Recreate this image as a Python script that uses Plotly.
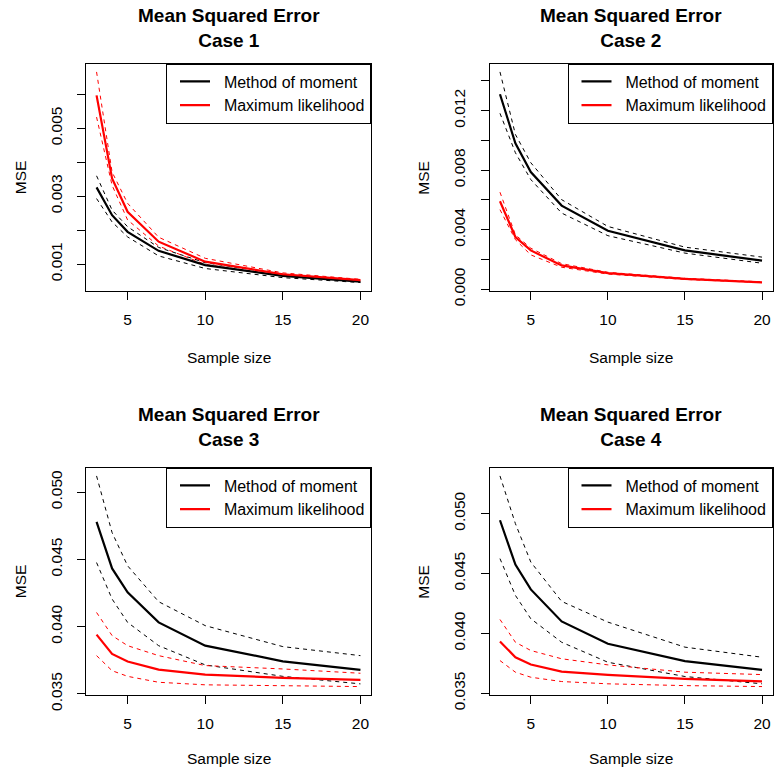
import plotly.graph_objects as go

# ---------------- data ----------------
sample_size = [3, 4, 5, 7, 10, 15, 20]

c1_mom = [0.00326, 0.00244, 0.00195, 0.00139, 0.00097, 0.00065, 0.00048]
c1_mom_hi = [0.00360, 0.00259, 0.00210, 0.00149, 0.00104, 0.00070, 0.00051]
c1_mom_lo = [0.00293, 0.00224, 0.00180, 0.00124, 0.00087, 0.00060, 0.000455]
c1_ml = [0.00597, 0.00352, 0.00254, 0.00166, 0.00107, 0.00070, 0.00053]
c1_ml_hi = [0.00666, 0.00371, 0.00279, 0.00179, 0.00117, 0.00074, 0.00055]
c1_ml_lo = [0.00533, 0.00332, 0.00230, 0.00153, 0.00099, 0.00066, 0.00050]

c2_mom = [0.01310, 0.00980, 0.00787, 0.00562, 0.00393, 0.00261, 0.00193]
c2_mom_hi = [0.01460, 0.01040, 0.00850, 0.00602, 0.00422, 0.00283, 0.00216]
c2_mom_lo = [0.01182, 0.00917, 0.00737, 0.00512, 0.00360, 0.00243, 0.00175]
c2_ml = [0.00591, 0.00351, 0.00261, 0.00160, 0.00108, 0.00070, 0.00047]
c2_ml_hi = [0.00652, 0.00366, 0.00276, 0.00172, 0.00114, 0.00074, 0.00050]
c2_ml_lo = [0.00535, 0.00333, 0.00231, 0.00148, 0.00102, 0.00066, 0.00045]

c3_mom = [0.04778, 0.04432, 0.04254, 0.04031, 0.03858, 0.03742, 0.03678]
c3_mom_hi = [0.05120, 0.04699, 0.04452, 0.04185, 0.04007, 0.03851, 0.03784]
c3_mom_lo = [0.04476, 0.04205, 0.04031, 0.03858, 0.03715, 0.03630, 0.03574]
c3_ml = [0.03940, 0.03797, 0.03740, 0.03680, 0.03643, 0.03619, 0.03604]
c3_ml_hi = [0.04105, 0.03933, 0.03858, 0.03784, 0.03710, 0.03685, 0.03653]
c3_ml_lo = [0.03784, 0.03672, 0.03630, 0.03586, 0.03567, 0.03562, 0.03554]

c4_mom = [0.04944, 0.04574, 0.04367, 0.04100, 0.03913, 0.03768, 0.03696]
c4_mom_hi = [0.05314, 0.04916, 0.04595, 0.04267, 0.04094, 0.03885, 0.03801]
c4_mom_lo = [0.04624, 0.04317, 0.04122, 0.03926, 0.03759, 0.03640, 0.03579]
c4_ml = [0.03932, 0.03801, 0.03740, 0.03681, 0.03654, 0.03620, 0.03600]
c4_ml_hi = [0.04116, 0.03926, 0.03857, 0.03788, 0.03737, 0.03676, 0.03656]
c4_ml_lo = [0.03773, 0.03676, 0.03634, 0.03598, 0.03579, 0.03564, 0.03556]

case_titles = ["Case 1", "Case 2", "Case 3", "Case 4"]
series_names = ["Method of moment", "Maximum likelihood"]

c1_ticks = [0.001, 0.002, 0.003, 0.004, 0.005, 0.006]
c1_ticktext = ["0.001", "", "0.003", "", "0.005", ""]
c2_ticks = [0.000, 0.002, 0.004, 0.006, 0.008, 0.010, 0.012, 0.014]
c2_ticktext = ["0.000", "", "0.004", "", "0.008", "", "0.012", ""]
c34_ticks = [0.035, 0.040, 0.045, 0.050]
c34_ticktext = ["0.035", "0.040", "0.045", "0.050"]
x_ticks = [5, 10, 15, 20]

cases = [
    (c1_mom, c1_mom_hi, c1_mom_lo, c1_ml, c1_ml_hi, c1_ml_lo, c1_ticks, c1_ticktext),
    (c2_mom, c2_mom_hi, c2_mom_lo, c2_ml, c2_ml_hi, c2_ml_lo, c2_ticks, c2_ticktext),
    (c3_mom, c3_mom_hi, c3_mom_lo, c3_ml, c3_ml_hi, c3_ml_lo, c34_ticks, c34_ticktext),
    (c4_mom, c4_mom_hi, c4_mom_lo, c4_ml, c4_ml_hi, c4_ml_lo, c34_ticks, c34_ticktext),
]

# ---------------- layout geometry (pixels) ----------------
W, H = 776, 775
FONT = "Liberation Sans, Arial, Helvetica, sans-serif"
boxes = [  # left, right, top, bottom
    (86, 371, 63.5, 291),
    (489.5, 772.5, 63.5, 291),
    (86, 371, 467.5, 695),
    (489.5, 772.5, 467.5, 695),
]
title_y = [28, 28, 427, 427]
xlab_y = [357, 357, 758, 758]

def px(x):
    return x / W

def py(y):
    return 1 - y / H

def r_range(lo, hi):
    d = (hi - lo) * 0.04
    return [lo - d, hi + d]

fig = go.Figure()
layout = dict(
    width=W, height=H, margin=dict(l=0, r=0, t=0, b=0, pad=0, autoexpand=False),
    plot_bgcolor="white", paper_bgcolor="white",
    font=dict(family=FONT, size=15, color="black"),
    annotations=[],
)

NB = "\u00a0"

for i, (mom, mom_hi, mom_lo, ml, ml_hi, ml_lo, yt, ytt) in enumerate(cases):
    n = i + 1
    xa = "x" if n == 1 else f"x{n}"
    ya = "y" if n == 1 else f"y{n}"
    leg = "legend" if n == 1 else f"legend{n}"
    L, R, T, B = boxes[i]

    for ys, col in [(mom_hi, "black"), (mom_lo, "black"), (ml_hi, "red"), (ml_lo, "red")]:
        fig.add_trace(go.Scatter(x=sample_size, y=ys, mode="lines", xaxis=xa, yaxis=ya,
                                 line=dict(color=col, width=1, dash="4px,4px"),
                                 showlegend=False, hoverinfo="skip"))
    fig.add_trace(go.Scatter(x=sample_size, y=mom, mode="lines", xaxis=xa, yaxis=ya,
                             line=dict(color="black", width=2.2),
                             name=NB * 2 + series_names[0], legend=leg))
    fig.add_trace(go.Scatter(x=sample_size, y=ml, mode="lines", xaxis=xa, yaxis=ya,
                             line=dict(color="red", width=2.2),
                             name=NB * 2 + series_names[1], legend=leg))

    allv = mom + mom_hi + mom_lo + ml + ml_hi + ml_lo
    yr = r_range(min(allv), max(allv))
    xr = r_range(min(sample_size), max(sample_size))

    axis_common = dict(showline=True, mirror=True, linecolor="black", linewidth=1,
                       ticks="outside", ticklen=8, tickcolor="black", tickwidth=1,
                       showgrid=False, zeroline=False, fixedrange=True, automargin=False,
                       tickfont=dict(family=FONT, size=15.5, color="black"))
    layout["xaxis" if n == 1 else f"xaxis{n}"] = dict(
        axis_common, domain=[px(L), px(R)], range=xr, anchor=ya,
        tickvals=x_ticks, ticktext=[str(v) for v in x_ticks], ticklabelstandoff=6)
    layout["yaxis" if n == 1 else f"yaxis{n}"] = dict(
        axis_common, domain=[py(B), py(T)], range=yr, anchor=xa,
        tickvals=yt, ticktext=ytt, tickangle=-90, ticklabelstandoff=9)

    layout[leg] = dict(x=px(R), y=py(T), xanchor="right", yanchor="top",
                       bgcolor="white", bordercolor="black", borderwidth=1,
                       font=dict(family=FONT, size=16, color="black"),
                       indentation=8, tracegroupgap=0)

    cx = (L + R) / 2
    layout["annotations"].append(dict(
        x=px(cx), y=py(title_y[i]), xref="paper", yref="paper", showarrow=False,
        text=f"<b>Mean Squared Error<br>{case_titles[i]}</b>",
        font=dict(family=FONT, size=19, color="black"), xanchor="center", yanchor="middle"))
    layout["annotations"].append(dict(
        x=px(cx), y=py(xlab_y[i]), xref="paper", yref="paper", showarrow=False,
        text="Sample size", font=dict(family=FONT, size=15.5, color="black"),
        xanchor="center", yanchor="middle"))
    layout["annotations"].append(dict(
        x=px(L - 66), y=py((T + B) / 2), xref="paper", yref="paper", showarrow=False,
        text="MSE", textangle=-90, font=dict(family=FONT, size=15.5, color="black"),
        xanchor="center", yanchor="middle"))

fig.update_layout(**layout)
fig.write_html(
    "out.html",
    config={"displayModeBar": False},
    post_script=(
        "document.documentElement.style.margin='0px';"
        "document.documentElement.style.overflow='hidden';"
        "document.body.style.margin='0px';"
        "document.body.style.overflow='hidden';"
        "var d=document.getElementById('{plot_id}');"
        "d.style.position='fixed';d.style.left='0px';d.style.top='0px';"
    ),
)
